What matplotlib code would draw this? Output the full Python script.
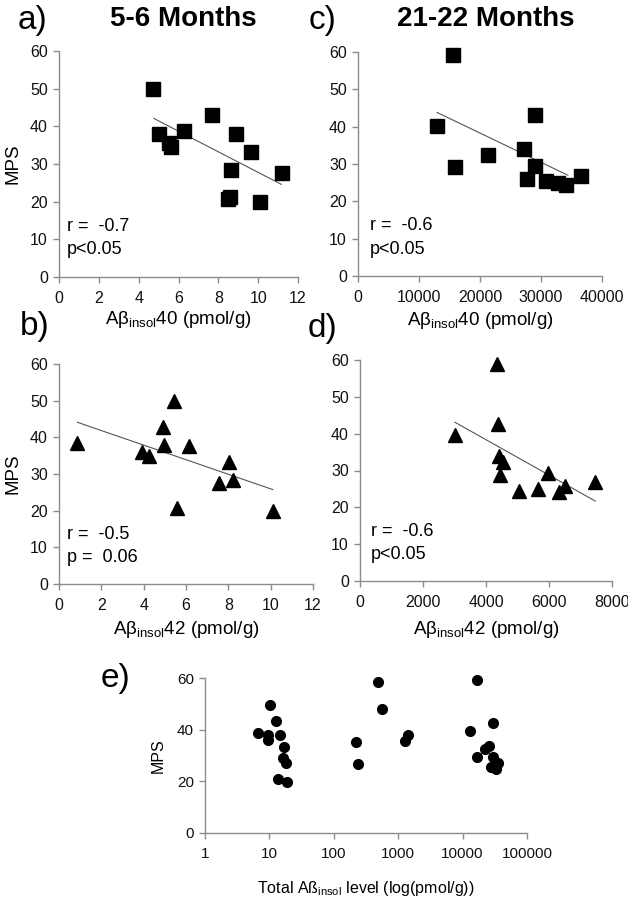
import numpy as np
import matplotlib
matplotlib.use("Agg")
import matplotlib.pyplot as plt

plt.rcParams['font.family'] = ['Liberation Sans', 'DejaVu Sans']
plt.rcParams['mathtext.fontset'] = 'custom'
plt.rcParams['mathtext.rm'] = 'Liberation Sans'
plt.rcParams['mathtext.it'] = 'Liberation Sans:italic'

# a) 5-6 months, Abeta40 vs MPS
a_x = [4.7, 5.0, 5.5, 5.6, 6.3, 7.7, 8.9, 8.65, 8.5, 8.6, 9.65, 10.1, 11.2]
a_y = [50.0, 38.0, 35.5, 34.5, 38.8, 43.0, 38.0, 28.4, 20.8, 21.3, 33.1, 20.0, 27.5]
a_fit = [4.76, 11.16, 42.1, 24.6]   # x0, x1, y0, y1 of trend line

# c) 21-22 months, Abeta40 vs MPS
c_x = [12970, 15640, 15910, 21250, 27250, 28990, 27630, 28990, 30790, 32800, 34170, 36620]
c_y = [40.2, 59.1, 29.2, 32.5, 34.1, 43.2, 25.9, 29.5, 25.5, 25.0, 24.3, 26.9]
c_fit = [12970, 34400, 43.8, 27.0]

# b) 5-6 months, Abeta42 vs MPS
b_x = [0.87, 3.9, 4.25, 4.9, 4.96, 5.41, 5.57, 6.15, 7.57, 8.02, 8.24, 10.1]
b_y = [38.5, 36.0, 35.0, 42.9, 37.9, 49.8, 20.8, 37.7, 27.6, 33.2, 28.3, 19.9]
b_fit = [0.87, 10.1, 44.1, 25.75]

# d) 21-22 months, Abeta42 vs MPS
d_x = [3013, 4340, 4393, 4424, 4531, 4435, 5061, 5666, 5963, 6313, 6493, 7470]
d_y = [39.6, 58.8, 42.7, 33.9, 32.3, 28.9, 24.3, 24.9, 29.4, 24.1, 25.9, 26.8]
d_fit = [3013, 7470, 43.1, 21.7]

# e) total Abeta (log) vs MPS
e_x = [6.7, 10.2, 9.6, 9.6, 12.6, 14.6, 17.0, 16.4, 18.0, 13.7, 18.5,
       225, 238, 486, 569, 1290, 1415,
       16500, 12800, 16500, 22500, 25600, 29500, 29500, 27900, 33400, 35700]
e_y = [38.6, 49.6, 37.9, 36.0, 43.4, 37.9, 33.4, 28.9, 27.2, 20.9, 19.9,
       35.2, 26.7, 58.6, 47.9, 35.6, 37.9,
       59.2, 39.6, 29.3, 32.4, 33.8, 42.5, 29.3, 25.7, 24.6, 27.0]
e_ticks = [1, 10, 100, 1000, 10000, 100000]
e_ticklabels = ['1', '10', '100', '1000', '10000', '100000']

W, H = 628, 900
fig = plt.figure(figsize=(W / 100, H / 100), dpi=100)


def box(l, r, t, b):
    return [l / W, 1 - b / H, (r - l) / W, (b - t) / H]


axis_col = '#8c8c8c'


def style(ax, fs):
    for s in ['top', 'right']:
        ax.spines[s].set_visible(False)
    for s in ['left', 'bottom']:
        ax.spines[s].set_color(axis_col)
        ax.spines[s].set_linewidth(1.0)
    ax.tick_params(axis='both', direction='out', length=4, width=1,
                   color=axis_col, labelsize=fs, labelcolor='#111111')
    ax.tick_params(axis='x', pad=6)
    ax.tick_params(axis='y', pad=4)


def scatter_panel(rect, xs, ys, fit, marker, xmax, xstep, xlabel, lab_y, stats, stats_x):
    ax = fig.add_axes(rect)
    ax.plot(fit[:2], fit[2:], color='#555555', lw=0.8, zorder=2)
    ax.plot(xs, ys, linestyle='none', marker=marker, color='black',
            markersize=9.5, zorder=3, clip_on=False)
    ax.set_xlim(0, xmax)
    ax.set_ylim(0, 60)
    ax.set_xticks(np.arange(0, xmax + xstep / 2, xstep))
    ax.set_yticks(np.arange(0, 61, 10))
    style(ax, 11.5)
    ax.set_xlabel(xlabel, fontsize=13.5, va='center')
    ax.xaxis.set_label_coords(0.5, lab_y)
    ax.text(stats_x, 0.225, stats[0], transform=ax.transAxes, fontsize=13, va='center')
    ax.text(stats_x, 0.12, stats[1], transform=ax.transAxes, fontsize=13, va='center')
    return ax


lab40 = 'A\u03b2$_{\\mathrm{insol}}$40 (pmol/g)'
lab42 = 'A\u03b2$_{\\mathrm{insol}}$42 (pmol/g)'

ax_a = scatter_panel(box(59, 298, 51, 277), a_x, a_y, a_fit, 's', 12, 2, lab40,
                     -0.186, ['r =  -0.7', 'p<0.05'], 0.033)
ax_a.set_ylabel('MPS', fontsize=13.5, labelpad=6)
ax_c = scatter_panel(box(358, 602, 52, 276), c_x, c_y, c_fit, 's', 40000, 10000, lab40,
                     -0.2, ['r =  -0.6', 'p<0.05'], 0.05)
ax_b = scatter_panel(box(59, 313, 364, 584), b_x, b_y, b_fit, '^', 12, 2, lab42,
                     -0.205, ['r =  -0.5', 'p =  0.06'], 0.033)
ax_b.set_ylabel('MPS', fontsize=13.5, labelpad=6)
ax_d = scatter_panel(box(360, 612, 360, 581), d_x, d_y, d_fit, '^', 8000, 2000, lab42,
                     -0.22, ['r =  -0.6', 'p<0.05'], 0.044)

# e) log panel
ax_e = fig.add_axes(box(205, 527, 678, 833))
ax_e.plot(e_x, e_y, linestyle='none', marker='o', color='black', markersize=7,
          clip_on=False)
ax_e.set_xscale('log')
ax_e.set_xlim(1, 100000)
ax_e.set_ylim(0, 60)
ax_e.set_xticks(e_ticks)
ax_e.set_xticklabels(e_ticklabels)
ax_e.minorticks_off()
ax_e.set_yticks([0, 20, 40, 60])
style(ax_e, 11)
ax_e.set_ylabel('MPS', fontsize=11.5, labelpad=8)
ax_e.set_xlabel('Total A\u00df$_{\\mathrm{insol}}$ level (log(pmol/g))', fontsize=11.5, va='center')
ax_e.xaxis.set_label_coords(0.5, -0.355)

# panel letters and titles
fig.text(18 / W, 1 - 20 / H, 'a)', fontsize=24, va='center')
fig.text(309 / W, 1 - 20 / H, 'c)', fontsize=24, va='center')
fig.text(20 / W, 1 - 326 / H, 'b)', fontsize=24, va='center')
fig.text(308 / W, 1 - 328 / H, 'd)', fontsize=24, va='center')
fig.text(101 / W, 1 - 678 / H, 'e)', fontsize=24, va='center')
fig.text(183 / W, 1 - 19 / H, '5-6 Months', fontsize=20, fontweight='bold',
         ha='center', va='center')
fig.text(486 / W, 1 - 19 / H, '21-22 Months', fontsize=20, fontweight='bold',
         ha='center', va='center')

fig.savefig('out.png', dpi=100)
